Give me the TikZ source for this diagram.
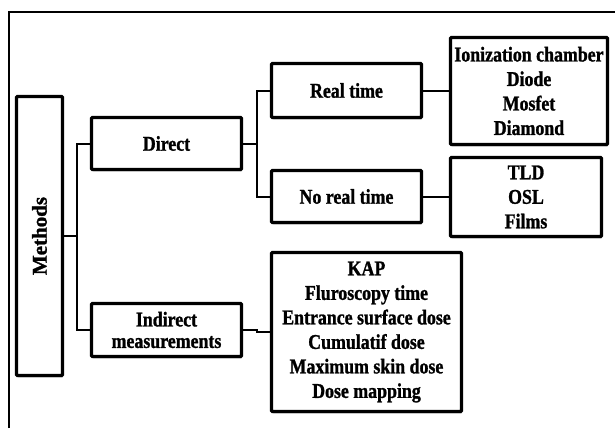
\documentclass[tikz,border=0pt]{standalone}
\usepackage{fontspec}
\setmainfont{Liberation Serif}[FakeStretch=0.85, BoldFeatures={FakeBold=1.2}]
\newfontfamily\methodsfont{Liberation Serif}[BoldFeatures={FakeBold=1.2}]
\usetikzlibrary{shadows}
\tikzset{
  boxnode/.style={draw=black, line width=3.3pt, rounded corners=1pt, fill=white,
    align=center, inner sep=0pt, font=\bfseries\fontsize{21}{24.5}\selectfont,
    drop shadow={shadow xshift=0.8pt, shadow yshift=-2pt, fill=black, opacity=0.18}},
  conn/.style={draw=black, line width=2pt},
  framel/.style={draw=black, line width=1.3pt}
}
\begin{document}
\begin{tikzpicture}[x=1pt,y=-1pt]
\useasboundingbox (0,0) rectangle (615,428);
\fill[white] (0,0) rectangle (615,428);
\draw[framel] (9,428) -- (9,12) -- (615,12);

\node[boxnode, minimum width=46pt, minimum height=279pt] (methods) at (39.5,236) {};
\node[rotate=90, font=\methodsfont\bfseries\fontsize{21}{24}\selectfont] (methodslabel) at (methods.center) {Methods};

\node[boxnode, minimum width=150pt, minimum height=52pt] (direct) at (166.5,143.5) {Direct};
\node[boxnode, minimum width=150pt, minimum height=53pt, font=\bfseries\fontsize{21}{21.5}\selectfont] (indirect) at (166.5,330) {Indirect\\measurements};

\node[boxnode, minimum width=150pt, minimum height=54pt] (realtime) at (346.5,90.5) {Real time};
\node[boxnode, minimum width=150pt, minimum height=52pt] (norealtime) at (346.5,196.5) {No real time};

\node[boxnode, minimum width=157pt, minimum height=107pt] (ion) at (529,91) {Ionization chamber\\Diode\\Mosfet\\Diamond};
\node[boxnode, minimum width=151pt, minimum height=79pt] (tld) at (526,197) {TLD\\OSL\\Films};
\node[boxnode, minimum width=190pt, minimum height=159pt] (kap) at (366.5,332) {KAP\\Fluroscopy time\\Entrance surface dose\\Cumulatif dose\\Maximum skin dose\\Dose mapping};

\coordinate (jm) at (77,236);
\coordinate (jd) at (257,143.5);
\coordinate (ji) at (257,330);

\draw[conn] (methods.east) -- (jm);
\draw[conn] (direct.west) -| (jm) |- (indirect.west);
\draw[conn] (direct.east) -- (jd);
\draw[conn] (realtime.west) -| (jd) |- (norealtime.west);
\draw[conn] (indirect.east) -- (ji) -- ++(0,2) -- (kap.west);
\draw[conn] (realtime.east) -- (realtime.east -| ion.west);
\draw[conn] (norealtime.east) -- (norealtime.east -| tld.west);
\end{tikzpicture}
\end{document}
